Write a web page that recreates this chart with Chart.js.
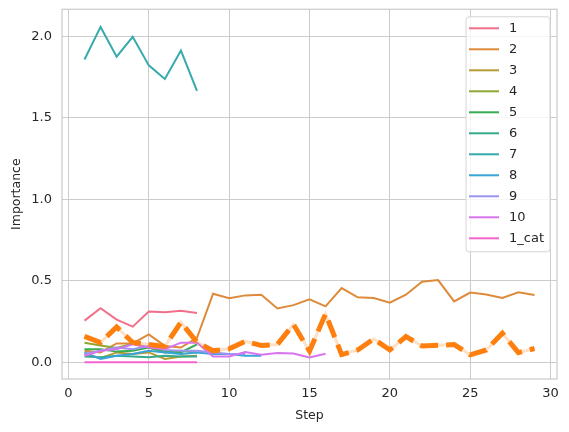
<!DOCTYPE html>
<html>
<head>
<meta charset="utf-8">
<script src="https://cdn.jsdelivr.net/npm/chart.js@4.4.1/dist/chart.umd.min.js"></script>
<style>
  html, body { margin: 0; padding: 0; background: #ffffff; }
  #wrap { width: 569px; height: 432px; }
</style>
</head>
<body>
<div id="wrap"><canvas id="c" width="569" height="432"></canvas></div>
<script>
// ---------- data ----------
const steps = [1,2,3,4,5,6,7,8,9,10,11,12,13,14,15,16,17,18,19,20,21,22,23,24,25,26,27,28,29];
const seriesLabels = ['1','2','3','4','5','6','7','8','9','10','1_cat'];
const s1 = [0.255, 0.331, 0.261, 0.218, 0.311, 0.307, 0.315, 0.302];
const s2 = [0.07, 0.06, 0.115, 0.115, 0.17, 0.10, 0.09, 0.15, 0.42, 0.393, 0.41, 0.414, 0.33, 0.35, 0.386, 0.343, 0.455, 0.398, 0.394, 0.365, 0.414, 0.494, 0.504, 0.373, 0.427, 0.416, 0.394, 0.429, 0.412];
const s3 = [0.05, 0.025, 0.06, 0.05, 0.06, 0.02, 0.035, 0.04];
const s4 = [0.119, 0.103, 0.088, 0.113, 0.09, 0.06, 0.07, 0.06];
const s5 = [0.08, 0.08, 0.065, 0.07, 0.09, 0.065, 0.06, 0.11];
const s6 = [0.035, 0.03, 0.04, 0.035, 0.03, 0.04, 0.035, 0.035];
const s7 = [1.857, 2.057, 1.874, 1.996, 1.821, 1.737, 1.912, 1.664];
const s8 = [0.06, 0.02, 0.04, 0.05, 0.07, 0.06, 0.05, 0.06, 0.05, 0.05, 0.04, 0.04];
const s9 = [0.05, 0.07, 0.09, 0.08, 0.10, 0.075, 0.07, 0.07, 0.06, 0.05, 0.05];
const s10 = [0.04, 0.07, 0.08, 0.11, 0.09, 0.08, 0.12, 0.12, 0.035, 0.035, 0.062, 0.046, 0.056, 0.054, 0.029, 0.052];
const s1cat = [0, 0, 0, 0, 0, 0, 0, 0];
const overall = [0.158, 0.121, 0.216, 0.121, 0.109, 0.097, 0.245, 0.123, 0.07, 0.082, 0.128, 0.103, 0.109, 0.232, 0.068, 0.296, 0.047, 0.075, 0.143, 0.075, 0.157, 0.1, 0.104, 0.108, 0.045, 0.075, 0.178, 0.059, 0.084];
const xTicks = [0, 5, 10, 15, 20, 25, 30];
const yTicks = [0, 0.5, 1.0, 1.5, 2.0];

// ---------- style ----------
const palette = ['#f0708a','#dd8a3a','#b49b34','#8fa733','#36ad53','#35ab8d','#37aaad','#3aa3d7','#9a95f2','#d874ee','#f565cc'];
const FONT = 'DejaVu Sans';
const TXT = '#262626';

const allSeries = [s1,s2,s3,s4,s5,s6,s7,s8,s9,s10,s1cat];
const toXY = arr => arr.map((v, i) => ({ x: steps[i], y: v }));

const datasets = [];
datasets.push({
  label: 'overall', data: toXY(overall), borderColor: '#ff7f0e', borderWidth: 5,
  borderDash: [18, 8], borderCapStyle: 'butt', pointRadius: 0, tension: 0, order: 0, inLegend: false
});
datasets.push({
  label: 'overall_bg', data: toXY(overall), borderColor: 'rgba(255,127,14,0.24)', borderWidth: 3,
  pointRadius: 0, tension: 0, order: 1, inLegend: false
});
allSeries.forEach((arr, i) => {
  datasets.push({
    label: seriesLabels[i], data: toXY(arr), borderColor: palette[i], backgroundColor: palette[i],
    borderWidth: 2, pointRadius: 0, tension: 0, order: 100 - i, inLegend: true
  });
});

const frame = {
  id: 'frame',
  afterDraw(chart) {
    const { ctx, chartArea: a } = chart;
    ctx.save();
    ctx.strokeStyle = '#cccccc';
    ctx.lineWidth = 1.25;
    ctx.strokeRect(a.left, a.top, a.right - a.left, a.bottom - a.top);
    ctx.restore();
  }
};

const mplLegend = {
  id: 'mplLegend',
  afterDraw(chart) {
    const { ctx, chartArea: a } = chart;
    const items = chart.data.datasets.filter(d => d.inLegend);
    ctx.save();
    ctx.font = '13px "' + FONT + '"';
    let maxW = 0;
    items.forEach(d => { maxW = Math.max(maxW, ctx.measureText(d.label).width); });
    const rowH = 21;
    const boxTop = a.top + 7.5;
    const boxH = 11.5 + (items.length - 1) * rowH + 13.5;
    const boxRight = a.right - 7;
    const boxW = 3 + 30 + 10 + maxW + 6;
    const boxLeft = boxRight - boxW;
    const r = 3;
    ctx.beginPath();
    ctx.moveTo(boxLeft + r, boxTop);
    ctx.lineTo(boxRight - r, boxTop);
    ctx.arcTo(boxRight, boxTop, boxRight, boxTop + r, r);
    ctx.lineTo(boxRight, boxTop + boxH - r);
    ctx.arcTo(boxRight, boxTop + boxH, boxRight - r, boxTop + boxH, r);
    ctx.lineTo(boxLeft + r, boxTop + boxH);
    ctx.arcTo(boxLeft, boxTop + boxH, boxLeft, boxTop + boxH - r, r);
    ctx.lineTo(boxLeft, boxTop + r);
    ctx.arcTo(boxLeft, boxTop, boxLeft + r, boxTop, r);
    ctx.closePath();
    ctx.fillStyle = 'rgba(255,255,255,0.8)';
    ctx.fill();
    ctx.strokeStyle = '#d5d5d5';
    ctx.lineWidth = 1;
    ctx.stroke();
    ctx.textBaseline = 'middle';
    ctx.textAlign = 'left';
    items.forEach((d, i) => {
      const cy = boxTop + 11.5 + i * rowH;
      ctx.strokeStyle = d.borderColor;
      ctx.lineWidth = 2;
      ctx.beginPath();
      ctx.moveTo(boxLeft + 3, cy);
      ctx.lineTo(boxLeft + 33, cy);
      ctx.stroke();
      ctx.fillStyle = TXT;
      ctx.fillText(d.label, boxLeft + 43, cy + 0.5);
    });
    ctx.restore();
  }
};

new Chart(document.getElementById('c'), {
  type: 'line',
  data: { datasets },
  options: {
    responsive: false,
    animation: false,
    events: [],
    layout: { padding: { top: 9.3, right: 12, left: 0, bottom: 0 } },
    plugins: { legend: { display: false }, tooltip: { enabled: false } },
    scales: {
      x: {
        type: 'linear', min: -0.4, max: 30.4,
        afterBuildTicks: s => { s.ticks = xTicks.map(v => ({ value: v })); },
        afterFit: s => { s.height = 53; s.paddingLeft = 0; s.paddingRight = 0; },
        ticks: { color: TXT, font: { family: FONT, size: 13 }, padding: 7, maxRotation: 0, callback: v => String(v) },
        grid: { color: '#cccccc', lineWidth: 1, drawTicks: false },
        border: { display: false },
        title: { display: true, text: 'Step', color: TXT, font: { family: FONT, size: 12.5 }, padding: { top: 0, bottom: 9 } }
      },
      y: {
        type: 'linear', min: -0.103, max: 2.165,
        afterBuildTicks: s => { s.ticks = yTicks.map(v => ({ value: v })); },
        afterFit: s => { s.width = 62; s.paddingTop = 0; s.paddingBottom = 0; },
        ticks: { color: TXT, font: { family: FONT, size: 13 }, padding: 10, callback: v => v.toFixed(1) },
        grid: { color: '#cccccc', lineWidth: 1, drawTicks: false },
        border: { display: false },
        title: { display: true, text: 'Importance', color: TXT, font: { family: FONT, size: 12.5 }, padding: { top: 9, bottom: 0 } }
      }
    }
  },
  plugins: [frame, mplLegend]
});
</script>
</body>
</html>
